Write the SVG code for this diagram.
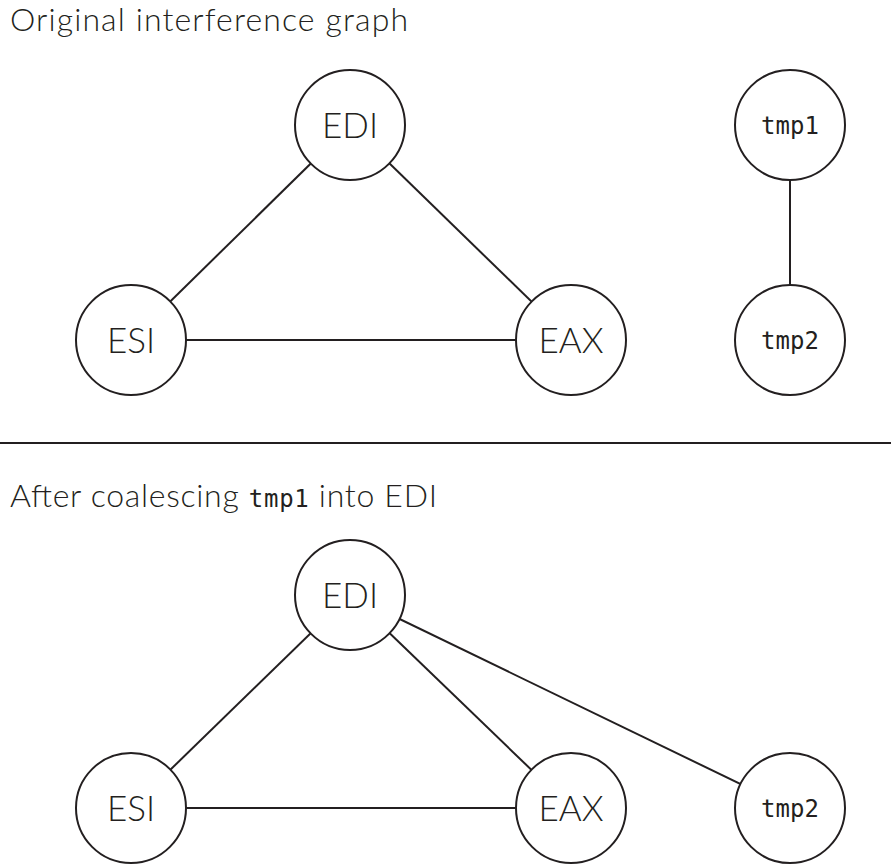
<svg xmlns="http://www.w3.org/2000/svg" width="891" height="868" viewBox="0 0 891 868">
  <style>
    .bg { fill: #ffffff; }
    .node circle { fill: #ffffff; stroke: #231f20; stroke-width: 2; }
    .edge { stroke: #231f20; stroke-width: 2; fill: none; }
    .title { font-family: "Lato", "Liberation Sans", sans-serif; font-size: 32px; fill: #231f20; font-weight: 300; }
    .label { font-family: "Lato", "Liberation Sans", sans-serif; font-size: 35px; fill: #231f20; text-anchor: middle; font-weight: 300; }
    .mono { font-family: "DejaVu Sans Mono", "Liberation Mono", monospace; }
    .label.mono { font-size: 24px; }
  </style>
  <rect class="bg" x="0" y="0" width="891" height="868"/>

  <!-- section headings -->
  <text class="title" x="10" y="31" textLength="398" lengthAdjust="spacing">Original interference graph</text>
  <text class="title" x="10" y="507" textLength="427" lengthAdjust="spacing">After coalescing <tspan class="mono" font-size="24">tmp1</tspan> into EDI</text>

  <!-- divider -->
  <line x1="0" y1="443" x2="891" y2="443" stroke="#231f20" stroke-width="2"/>

  <!-- connectors -->
  <g id="connectors">
    <line class="edge" x1="350" y1="125" x2="131" y2="340"/>
    <line class="edge" x1="350" y1="125" x2="571" y2="340"/>
    <line class="edge" x1="131" y1="340" x2="571" y2="340"/>
    <line class="edge" x1="790" y1="125" x2="790" y2="340"/>
    <line class="edge" x1="350" y1="595" x2="131" y2="808"/>
    <line class="edge" x1="350" y1="595" x2="571" y2="808"/>
    <line class="edge" x1="131" y1="808" x2="571" y2="808"/>
    <line class="edge" x1="350" y1="595" x2="790" y2="808"/>
  </g>

  <!-- original graph -->
  <g id="edi-top" class="node"><circle cx="350" cy="125" r="55"/><text class="label" x="350" y="138">EDI</text></g>
  <g id="esi-top" class="node"><circle cx="131" cy="340" r="55"/><text class="label" x="131" y="353">ESI</text></g>
  <g id="eax-top" class="node"><circle cx="571" cy="340" r="55"/><text class="label" x="571" y="353">EAX</text></g>
  <g id="tmp1-top" class="node"><circle cx="790" cy="125" r="55"/><text class="label mono" x="790" y="134">tmp1</text></g>
  <g id="tmp2-top" class="node"><circle cx="790" cy="340" r="55"/><text class="label mono" x="790" y="349">tmp2</text></g>

  <!-- coalesced graph -->
  <g id="edi-bottom" class="node"><circle cx="350" cy="595" r="55"/><text class="label" x="350" y="608">EDI</text></g>
  <g id="esi-bottom" class="node"><circle cx="131" cy="808" r="55"/><text class="label" x="131" y="821">ESI</text></g>
  <g id="eax-bottom" class="node"><circle cx="571" cy="808" r="55"/><text class="label" x="571" y="821">EAX</text></g>
  <g id="tmp2-bottom" class="node"><circle cx="790" cy="808" r="55"/><text class="label mono" x="790" y="817">tmp2</text></g>
</svg>
